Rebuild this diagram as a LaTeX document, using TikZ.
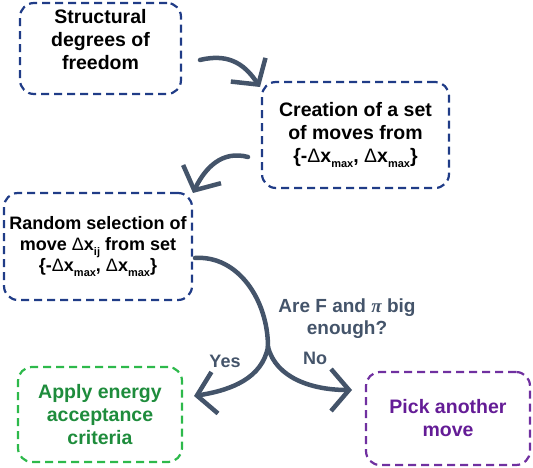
\documentclass[tikz,border=0pt]{standalone}
\usepackage{fontspec}
\setmainfont{Liberation Sans}
\newfontfamily\grkfont{Liberation Serif}
\usetikzlibrary{arrows.meta}
\definecolor{bbox}{RGB}{32,60,135}
\definecolor{gbox}{RGB}{45,185,75}
\definecolor{gtext}{RGB}{30,140,60}
\definecolor{pbox}{RGB}{112,48,160}
\definecolor{ptext}{RGB}{100,28,150}
\definecolor{arrc}{RGB}{68,84,106}
\newcommand\dxx{{\mdseries Δ}x}
\newcommand\lowsub[1]{\raisebox{-0.45ex}{\fontsize{11}{11}\selectfont #1}}
\begin{document}
\begin{tikzpicture}[x=1pt,y=-1pt,
  box/.style={draw=bbox, dash pattern=on 8pt off 5pt, line width=2.2pt, rounded corners=14pt,
    inner sep=0pt, align=center, font=\bfseries\fontsize{19.5}{23}\selectfont},
  arr/.style={draw=arrc, line width=4.5pt, line cap=round, -{Straight Barb[length=18pt,width=42pt]}},
  trunk/.style={draw=arrc, line width=4.5pt, line cap=round},
  lab/.style={text=arrc, font=\bfseries\fontsize{19}{22}\selectfont, align=center}]
\useasboundingbox (0,0) rectangle (533,468);
\node[box, minimum width=161pt, minimum height=91pt] (n1) at (100.5,48.5) {Structural\\degrees of\\freedom\\[-4pt]};
\node[box, minimum width=187pt, minimum height=106pt] (n2) at (355.5,135) {Creation of a set\\of moves from\\\{-\dxx\lowsub{max}, \dxx\lowsub{max}\}};
\node[box, minimum width=188pt, minimum height=107pt, font=\bfseries\fontsize{18}{21}\selectfont] (n3) at (98,246.5) {Random selection of\\move \dxx\lowsub{ij} from set\\\{-\dxx\lowsub{max}, \dxx\lowsub{max}\}};
\node[box, draw=gbox, text=gtext, minimum width=164pt, minimum height=95pt] (n4) at (100,414.5) {Apply energy\\acceptance\\criteria};
\node[box, draw=pbox, text=ptext, minimum width=164pt, minimum height=93pt] (n5) at (448,418.5) {Pick another\\move};
\node[lab] (q) at (347,319) {Are F and {\grkfont\itshape π} big\\enough?};
\node[lab, font=\bfseries\fontsize{18}{20}\selectfont] (yes) at (225,361) {Yes};
\node[lab, font=\bfseries\fontsize{18}{20}\selectfont] (no) at (315,358) {No};
\coordinate (a1s) at (200,60);
\coordinate (a1e) at (260,87);
\coordinate (a2s) at (248,157);
\coordinate (a2e) at (193,193);
\coordinate (a3s) at (195,258);
\coordinate (j) at (268,347);
\coordinate (ye) at (194,396);
\coordinate (ne) at (352,390);
\draw[arr] (a1s) .. controls (232,52) and (247,68) .. (a1e);
\draw[arr] (a2s) .. controls (222,150) and (205,168) .. (a2e);
\draw[trunk] (a3s) .. controls (238,255) and (268,300) .. (j);
\draw[arr] (j) .. controls (262,378) and (232,390) .. (ye);
\draw[arr] (j) .. controls (276,378) and (312,390) .. (ne);
\end{tikzpicture}
\end{document}
